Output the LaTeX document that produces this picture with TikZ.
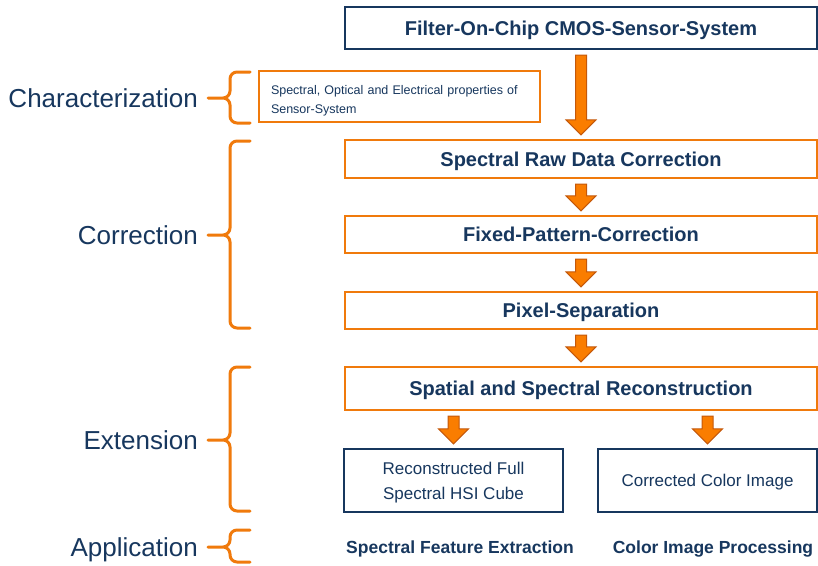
\documentclass[tikz,border=0pt]{standalone}
\usepackage{fontspec}
\setmainfont{Liberation Sans}
\usetikzlibrary{calc}

\definecolor{navy}{RGB}{23,55,94}
\definecolor{orng}{RGB}{240,122,12}
\definecolor{arrfill}{RGB}{250,125,0}
\definecolor{arredge}{RGB}{196,88,10}

\tikzset{
  box/.style={draw, line width=2.4pt, fill=white, inner sep=0pt, text=navy, align=center},
  navybox/.style={box, draw=navy},
  orangebox/.style={box, draw=orng},
  stagebox/.style={orangebox, minimum width=472pt},
  title/.style={font=\fontsize{20}{24}\selectfont\bfseries, text depth=0pt},
  plain/.style={font=\fontsize{17}{25}\selectfont, text depth=0pt},
  grouplabel/.style={anchor=east, text=navy, font=\fontsize{26}{30}\selectfont, inner sep=0pt, text depth=0pt},
  applabel/.style={text=navy, font=\fontsize{17.5}{21}\selectfont\bfseries, inner sep=0pt, text depth=0pt},
  bracestyle/.style={draw=orng, line width=3pt, rounded corners=7pt, line cap=round},
  blockarrow/.style={fill=arrfill, draw=arredge, line width=1pt, line join=miter},
}

% block arrow from the bottom of #1 down to the top of #2, centred on #2
\newcommand\blockarr[2]{%
  \path[blockarrow] let \p1=(#1.south), \p2=(#2.north) in
    (\x2-5.5pt,\y1-5pt) -- (\x2+5.5pt,\y1-5pt) -- (\x2+5.5pt,\y2+19pt)
    -- (\x2+15pt,\y2+19pt) -- (\x2,\y2+4pt) -- (\x2-15pt,\y2+19pt)
    -- (\x2-5.5pt,\y2+19pt) -- cycle;}

% curly brace beside a group label #1, spanning rows #2 (top) to #3 (bottom)
\newcommand\groupbrace[3]{%
  \draw[bracestyle] let \p1=(#1.east) in
    (250,#2) -- (230,#2) -- (230pt,\y1) -- (\x1+10pt,\y1)
    (250,#3) -- (230,#3) -- (230pt,\y1) -- (\x1+10pt,\y1);}

\begin{document}
\begin{tikzpicture}[x=1pt, y=-1pt]
  \fill[white] (0,0) rectangle (818,565);
  \useasboundingbox (0,0) rectangle (818,565);

  % processing chain
  \node[navybox, title, minimum width=472pt, minimum height=42pt] (sensor) at (581,28)
    {Filter-On-Chip CMOS-Sensor-System};
  \node[stagebox, title, minimum height=38pt] (raw) at (581,159)
    {Spectral Raw Data Correction};
  \node[stagebox, title, minimum height=37pt] (fpc) at (581,234.5)
    {Fixed-Pattern-Correction};
  \node[stagebox, title, minimum height=37pt] (pix) at (581,310.5)
    {Pixel-Separation};
  \node[stagebox, title, minimum height=43pt] (recon) at (581,388.5)
    {Spatial and Spectral Reconstruction};
  \node[navybox, plain, minimum width=219pt, minimum height=63pt] (cube) at (453.5,480.5)
    {Reconstructed Full\\Spectral HSI Cube};
  \node[navybox, plain, minimum width=219pt, minimum height=63pt] (color) at (707.5,480.5)
    {Corrected Color Image};

  % characterization note
  \node[orangebox, minimum width=281pt, minimum height=51pt, inner xsep=12pt,
        text width=257pt, align=left, text height=10pt, text depth=14pt,
        font=\fontsize{12.5}{19}\selectfont] (props) at (399.5,96.5)
    {Spectral, Optical and Electrical properties of\\Sensor-System};

  % applications
  \node[applabel] (feat) at (460,547) {Spectral Feature Extraction};
  \node[applabel] (proc) at (713,547) {Color Image Processing};

  % arrows
  \blockarr{sensor}{raw}
  \blockarr{raw}{fpc}
  \blockarr{fpc}{pix}
  \blockarr{pix}{recon}
  \blockarr{recon}{cube}
  \blockarr{recon}{color}

  % group labels and braces
  \node[grouplabel] (gchar) at (198,98) {Characterization};
  \node[grouplabel] (gcorr) at (198,235) {Correction};
  \node[grouplabel] (gext) at (198,440) {Extension};
  \node[grouplabel] (gapp) at (198,547) {Application};

  \groupbrace{gchar}{72}{123}
  \groupbrace{gcorr}{141}{328}
  \groupbrace{gext}{367}{511}
  \groupbrace{gapp}{530}{562}
\end{tikzpicture}
\end{document}
